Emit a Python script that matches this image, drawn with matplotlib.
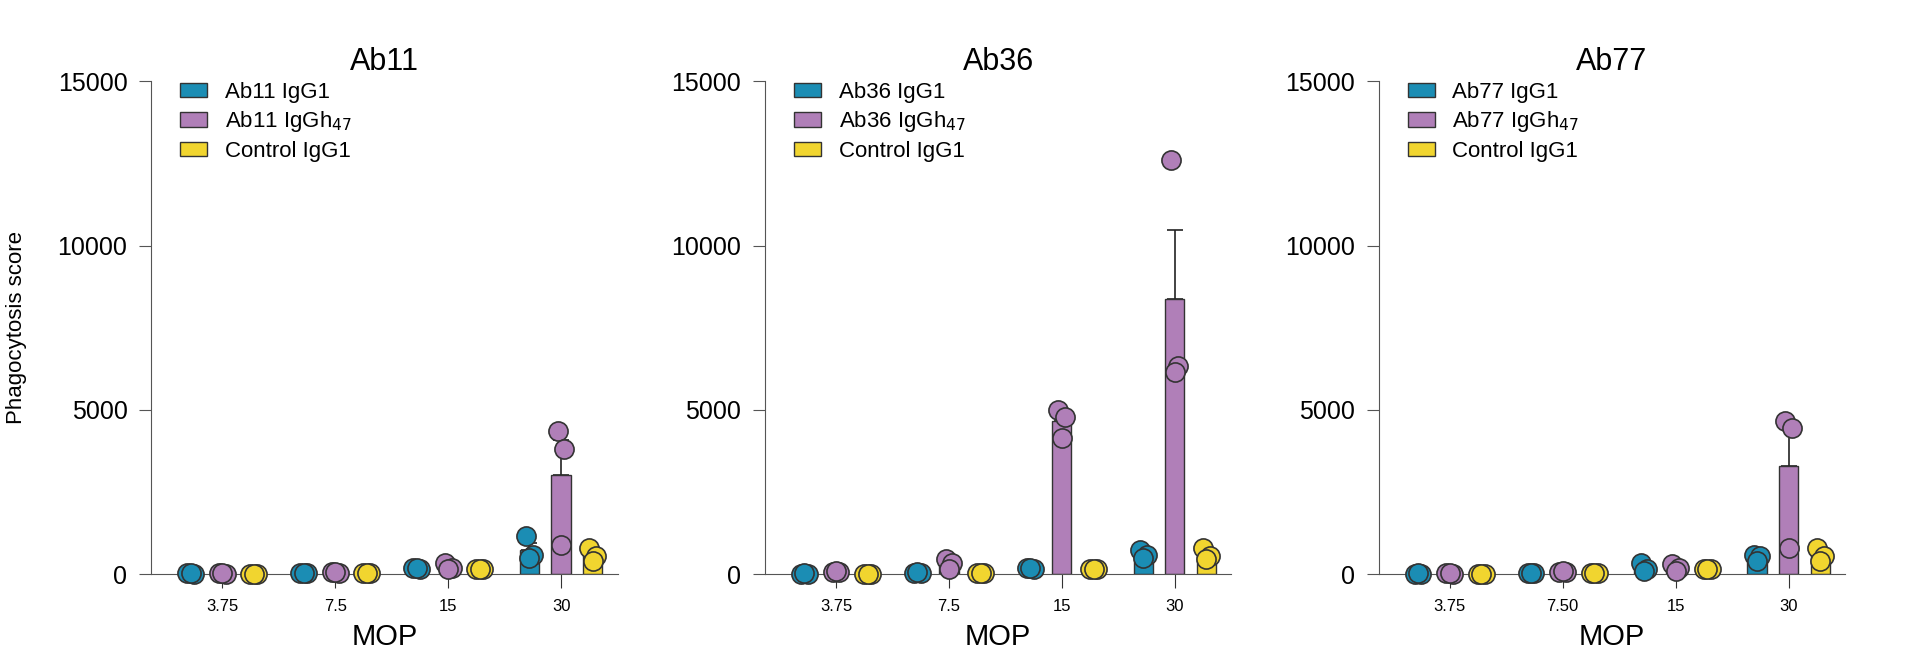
import matplotlib
matplotlib.use("Agg")
import matplotlib.pyplot as plt
import numpy as np

plt.rcParams["font.family"] = "Liberation Sans"

mop_labels = {"Ab11": ["3.75", "7.5", "15", "30"],
              "Ab36": ["3.75", "7.5", "15", "30"],
              "Ab77": ["3.75", "7.50", "15", "30"]}
series_names = ["IgG1", "IgGh$_{47}$", "Control IgG1"]
colors = ["#1b8db4", "#b07fb8", "#f1d52f"]

# replicate points per panel: [series][mop][replicate]
ab11 = [
    [[30, 20, 40], [40, 30, 50], [200, 150, 180], [1150, 600, 500]],
    [[30, 20, 40], [60, 40, 80], [350, 200, 150], [4350, 3800, 900]],
    [[20, 20, 20], [40, 40, 40], [150, 150, 150], [800, 550, 400]],
]
ab36 = [
    [[20, 20, 30], [50, 40, 60], [180, 150, 200], [750, 600, 500]],
    [[80, 70, 90], [450, 350, 150], [5000, 4800, 4150], [12600, 6350, 6150]],
    [[20, 20, 20], [30, 30, 30], [150, 150, 150], [800, 550, 450]],
]
ab77 = [
    [[20, 20, 30], [40, 40, 50], [350, 150, 100], [600, 550, 400]],
    [[30, 20, 40], [80, 60, 100], [300, 200, 100], [4650, 4450, 800]],
    [[20, 20, 20], [50, 50, 50], [150, 150, 150], [800, 550, 400]],
]
panels = [("Ab11", ab11), ("Ab36", ab36), ("Ab77", ab77)]

fig = plt.figure(figsize=(19.12, 6.67), dpi=100)
lefts = [0.079, 0.400, 0.721]
offsets = [-0.28, 0.0, 0.28]
jit = [-0.03, 0.03, 0.0]
bw = 0.17
for (name, data), l in zip(panels, lefts):
    ax = fig.add_axes([l, 0.139, 0.244, 0.739])
    x = np.arange(4)
    for si, (pts, c) in enumerate(zip(data, colors)):
        arr = np.array(pts, dtype=float)
        means = arr.mean(axis=1)
        sem = arr.std(axis=1, ddof=1) / np.sqrt(arr.shape[1])
        lab = f"{name} {series_names[si]}" if si < 2 else series_names[si]
        ax.bar(x + offsets[si], means, bw, color=c, edgecolor="#333333",
               linewidth=1, label=lab, zorder=2)
        ax.errorbar(x + offsets[si], means, yerr=[np.zeros(4), sem], fmt="none",
                    ecolor="#222222", elinewidth=1.2, capsize=6, capthick=1.2, zorder=1)
        for gi in range(4):
            ax.scatter(x[gi] + offsets[si] + np.array(jit), arr[gi], s=190,
                       color=c, edgecolor="#333333", linewidth=1.2,
                       zorder=3, clip_on=False)
    ax.set_xlim(-0.63, 3.5)
    ax.set_ylim(0, 15000)
    ax.set_yticks([0, 5000, 10000, 15000])
    ax.set_xticks(x)
    ax.set_xticklabels(mop_labels[name], fontsize=12)
    ax.tick_params(axis="y", labelsize=18, length=9, color="#555555", direction="out", pad=8)
    ax.tick_params(axis="x", length=10, color="#333333", pad=8)
    for s in ["top", "right"]:
        ax.spines[s].set_visible(False)
    ax.spines["left"].set_color("#555555")
    ax.spines["bottom"].set_color("#555555")
    ax.set_title(name, fontsize=22, pad=8)
    ax.set_xlabel("MOP", fontsize=21, labelpad=6)
    if name == "Ab11":
        ax.set_ylabel("Phagocytosis score", fontsize=16, labelpad=22)
    ax.legend(loc="upper left", bbox_to_anchor=(0.02, 1.04), frameon=False,
              fontsize=16, handlelength=1.2, handleheight=0.6,
              labelspacing=0.3, handletextpad=0.8)

fig.savefig("out.png", dpi=100)
